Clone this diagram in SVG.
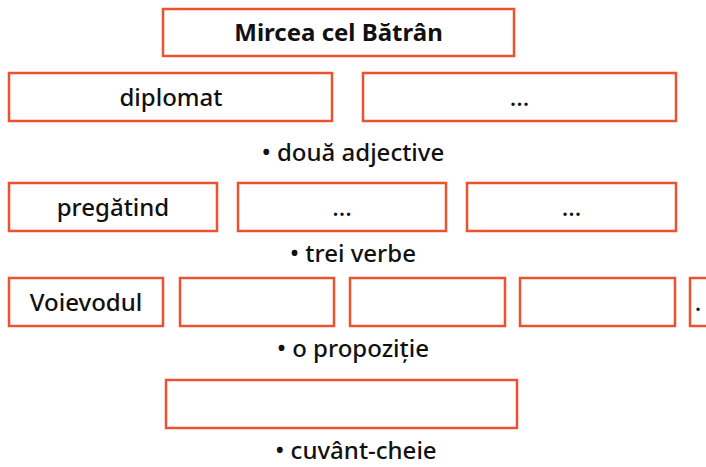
<svg xmlns="http://www.w3.org/2000/svg" width="706" height="467" viewBox="0 0 706 467">
<style>
.b{fill:#fff;stroke:#e9532f;stroke-width:2.5}
.t{font-family:"Noto Sans","Open Sans",sans-serif;font-size:24px;font-weight:500;fill:#111;text-anchor:middle}
.h{font-weight:bold}
</style>
<rect width="706" height="467" fill="#fff"/>
<g id="title"><rect class="b" x="163" y="9" width="351" height="47"/><text class="t h" x="338.5" y="41">Mircea cel Bătrân</text></g>
<g id="adj1"><rect class="b" x="9" y="73" width="323" height="48"/><text class="t" x="171" y="106">diplomat</text></g>
<g id="adj2"><rect class="b" x="363" y="73" width="313" height="48"/><text class="t" x="519.5" y="106">...</text></g>
<g id="lbl1"><text class="t" x="353" y="161">• două adjective</text></g>
<g id="v1"><rect class="b" x="9" y="183" width="208" height="48"/><text class="t" x="113" y="216">pregătind</text></g>
<g id="v2"><rect class="b" x="238" y="183" width="208" height="48"/><text class="t" x="342" y="216">...</text></g>
<g id="v3"><rect class="b" x="467" y="183" width="209" height="48"/><text class="t" x="571.5" y="216">...</text></g>
<g id="lbl2"><text class="t" x="353" y="262">• trei verbe</text></g>
<g id="p1"><rect class="b" x="9" y="278" width="154" height="48"/><text class="t" x="86" y="311">Voievodul</text></g>
<g id="p2"><rect class="b" x="180" y="278" width="154" height="48"/></g>
<g id="p3"><rect class="b" x="350" y="278" width="155" height="48"/></g>
<g id="p4"><rect class="b" x="520" y="278" width="155" height="48"/></g>
<g id="p5"><rect class="b" x="690" y="278" width="40" height="48"/><text class="t" x="698" y="311">.</text></g>
<g id="lbl3"><text class="t" x="353" y="357">• o propoziție</text></g>
<g id="kw"><rect class="b" x="166" y="380" width="351" height="48"/></g>
<g id="lbl4"><text class="t" x="356" y="459">• cuvânt-cheie</text></g>
<g id="connectors"></g>
</svg>
